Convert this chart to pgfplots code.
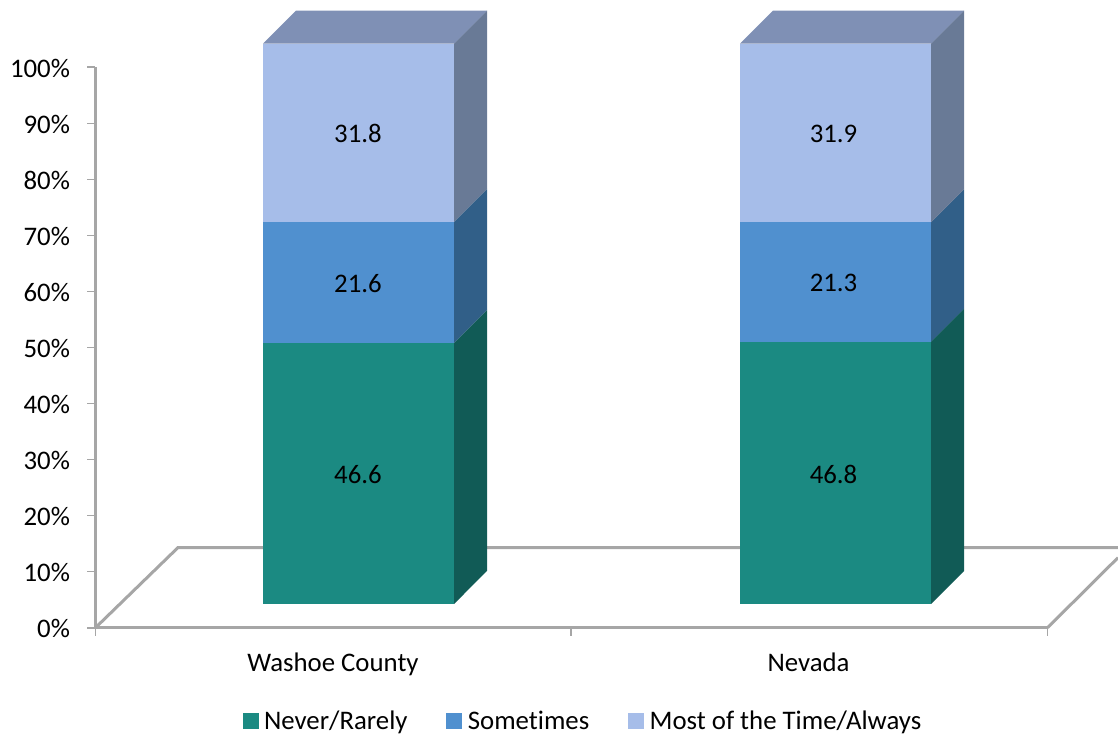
\documentclass[border=0pt]{standalone}
\usepackage{fontspec}
\setmainfont{Carlito}[Ligatures=NoCommon]
\usepackage{pgfplots}
\pgfplotsset{compat=1.18}
\definecolor{tealF}{HTML}{1B8A82}
\definecolor{tealS}{HTML}{115B56}
\definecolor{blueF}{HTML}{5090CF}
\definecolor{blueS}{HTML}{315F88}
\definecolor{lightF}{HTML}{A6BDE9}
\definecolor{lightS}{HTML}{697A96}
\definecolor{lightT}{HTML}{7F90B5}
\definecolor{axisG}{HTML}{A6A6A6}
\begin{document}
\begin{tikzpicture}[x=1pt,y=1pt]
\useasboundingbox (-95.5pt,-108.3pt) rectangle (1022.5pt,627.7pt);
\begin{axis}[
  anchor=origin,
  at={(0pt,0pt)},
  scale only axis,
  width=952pt, height=560.4pt,
  xmin=95.5, xmax=1047.5, ymin=0, ymax=100,
  clip=false,
  axis x line=bottom, axis y line=left,
  axis line style={draw=axisG, line width=3pt, -},
  tick style={draw=axisG, line width=1.6pt},
  tick align=outside,
  major tick length=8pt,
  ytick={0,10,...,100},
  yticklabel={\pgfmathprintnumber[assume math mode=true]{\tick}\%},
  xtick={95.5,571,1047.5},
  xticklabels={,,},
  extra x ticks={333,808.5},
  extra x tick labels={Washoe County,Nevada},
  extra x tick style={major tick length=0pt, tick style={draw=none}},
  xticklabel style={yshift=-22pt},
  tick label style={font=\fontsize{26.8}{29}\selectfont, text=black},
  yticklabel style={xshift=-14pt,yshift=-1pt},
  legend style={at={(axis cs:583,-16.6)},anchor=center,draw=none,fill=none,
    font=\fontsize{26.8}{29}\selectfont, legend columns=3, inner sep=0pt,
    /tikz/every odd column/.style={column sep=4pt},
    /tikz/every even column/.style={column sep=37pt}},
  legend image code/.code={\fill[#1] (0pt,-7.5pt) rectangle (15pt,7.5pt);},
]
\addlegendimage{tealF}\addlegendentry{Never/Rarely}
\addlegendimage{blueF}\addlegendentry{Sometimes}
\addlegendimage{lightF}\addlegendentry{Most of the Time/Always}

% floor
\addplot[forget plot,draw=axisG,line width=3pt,mark=none] coordinates {(95.5,0)(178,14.3)(1118,14.3)};
\addplot[forget plot,draw=axisG,line width=3pt,mark=none] coordinates {(1047.5,0)(1118,12.5)};

% Washoe County: side faces
\addplot[forget plot,fill=tealS,draw=none,mark=none] coordinates {(454,4.23)(487,10.12)(487,56.72)(454,50.83)} --cycle;
\addplot[forget plot,fill=blueS,draw=none,mark=none] coordinates {(454,50.83)(487,56.72)(487,78.32)(454,72.43)} --cycle;
\addplot[forget plot,fill=lightS,draw=none,mark=none] coordinates {(454,72.43)(487,78.32)(487,110.12)(454,104.23)} --cycle;
\addplot[forget plot,fill=lightT,draw=none,mark=none] coordinates {(263,104.23)(296,110.12)(487,110.12)(454,104.23)} --cycle;
% Washoe County: front faces
\addplot[forget plot,fill=tealF,draw=none,mark=none] coordinates {(263,4.23)(454,4.23)(454,50.83)(263,50.83)} --cycle;
\addplot[forget plot,fill=blueF,draw=none,mark=none] coordinates {(263,50.83)(454,50.83)(454,72.43)(263,72.43)} --cycle;
\addplot[forget plot,fill=lightF,draw=none,mark=none] coordinates {(263,72.43)(454,72.43)(454,104.23)(263,104.23)} --cycle;

% Nevada: side faces
\addplot[forget plot,fill=tealS,draw=none,mark=none] coordinates {(931,4.23)(964,10.12)(964,56.92)(931,51.03)} --cycle;
\addplot[forget plot,fill=blueS,draw=none,mark=none] coordinates {(931,51.03)(964,56.92)(964,78.22)(931,72.33)} --cycle;
\addplot[forget plot,fill=lightS,draw=none,mark=none] coordinates {(931,72.33)(964,78.22)(964,110.12)(931,104.23)} --cycle;
\addplot[forget plot,fill=lightT,draw=none,mark=none] coordinates {(740,104.23)(773,110.12)(964,110.12)(931,104.23)} --cycle;
% Nevada: front faces
\addplot[forget plot,fill=tealF,draw=none,mark=none] coordinates {(740,4.23)(931,4.23)(931,51.03)(740,51.03)} --cycle;
\addplot[forget plot,fill=blueF,draw=none,mark=none] coordinates {(740,51.03)(931,51.03)(931,72.33)(740,72.33)} --cycle;
\addplot[forget plot,fill=lightF,draw=none,mark=none] coordinates {(740,72.33)(931,72.33)(931,104.23)(740,104.23)} --cycle;

% value labels
\addplot[forget plot,draw=none,mark=none,point meta=explicit symbolic,
  nodes near coords,
  every node near coord/.append style={anchor=center,font=\fontsize{26.8}{29}\selectfont,text=black}]
  coordinates {
   (358,27.33)[46.6] (358,61.43)[21.6] (358,88.13)[31.8]
   (833.5,27.43)[46.8] (833.5,61.53)[21.3] (833.5,88.13)[31.9]};
\end{axis}
\end{tikzpicture}
\end{document}
